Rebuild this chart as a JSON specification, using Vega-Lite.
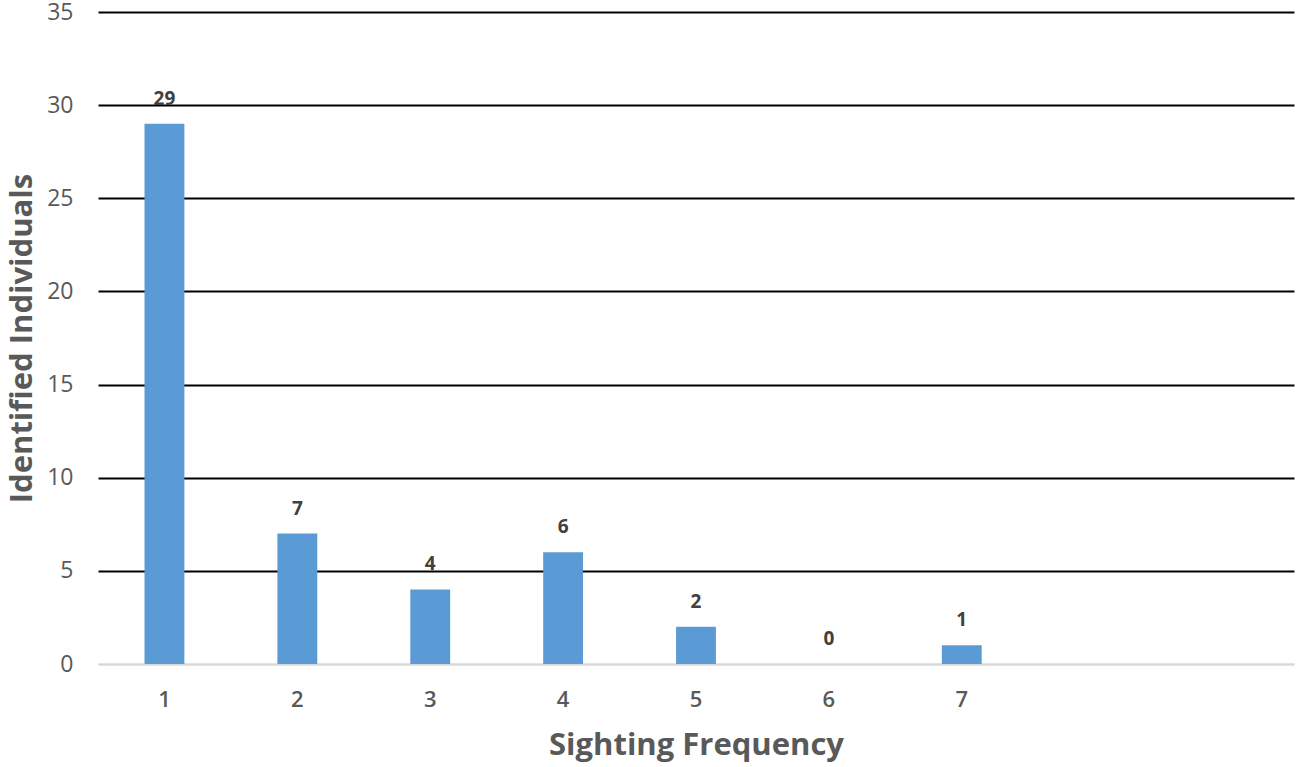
{
  "$schema": "https://vega.github.io/schema/vega-lite/v6.json",
  "width": 1196,
  "height": 652,
  "autosize": "none",
  "padding": {"left": 98, "top": 12, "right": 5, "bottom": 103},
  "background": "white",
  "config": {"view": {"stroke": null}, "font": "Open Sans"},
  "data": {"values": [
    {"freq": "1", "count": 29},
    {"freq": "2", "count": 7},
    {"freq": "3", "count": 4},
    {"freq": "4", "count": 6},
    {"freq": "5", "count": 2},
    {"freq": "6", "count": 0},
    {"freq": "7", "count": 1}
  ]},
  "encoding": {
    "x": {
      "field": "freq", "type": "ordinal",
      "scale": {"domain": ["1","2","3","4","5","6","7","8","9"], "paddingInner": 0.7, "paddingOuter": 0.35},
      "axis": {
        "title": "Sighting Frequency",
        "labelExpr": "toNumber(datum.value) > 7 ? '' : datum.label",
        "labelAngle": 0,
        "labelFont": "Open Sans", "labelFontSize": 22, "labelFontWeight": 600, "labelColor": "#595959",
        "labelPadding": 25,
        "ticks": false,
        "domainColor": "#D9D9D9", "domainWidth": 2,
        "titleFont": "Open Sans", "titleFontSize": 31, "titleFontWeight": "bold", "titleColor": "#595959",
        "titlePadding": 20,
        "grid": false
      }
    },
    "y": {
      "field": "count", "type": "quantitative",
      "scale": {"domain": [0, 35], "nice": false},
      "axis": {
        "title": "Identified Individuals",
        "values": [0, 5, 10, 15, 20, 25, 30, 35],
        "labelFont": "Open Sans", "labelFontSize": 23, "labelColor": "#595959",
        "labelPadding": 25,
        "ticks": false,
        "domain": false,
        "grid": true,
        "gridColor": {"condition": {"test": "datum.value === 0", "value": "#D9D9D9"}, "value": "#000000"},
        "gridWidth": 2,
        "titleFont": "Open Sans", "titleFontSize": 31, "titleFontWeight": "bold", "titleColor": "#595959",
        "titlePadding": 8
      }
    }
  },
  "layer": [
    {"mark": {"type": "bar", "color": "#5B9BD5"}},
    {"mark": {"type": "text", "dy": -25, "baseline": "middle", "fontSize": 19, "fontWeight": "bold", "color": "#404040", "font": "Open Sans"},
     "encoding": {"text": {"field": "count", "type": "quantitative"}}}
  ]
}
